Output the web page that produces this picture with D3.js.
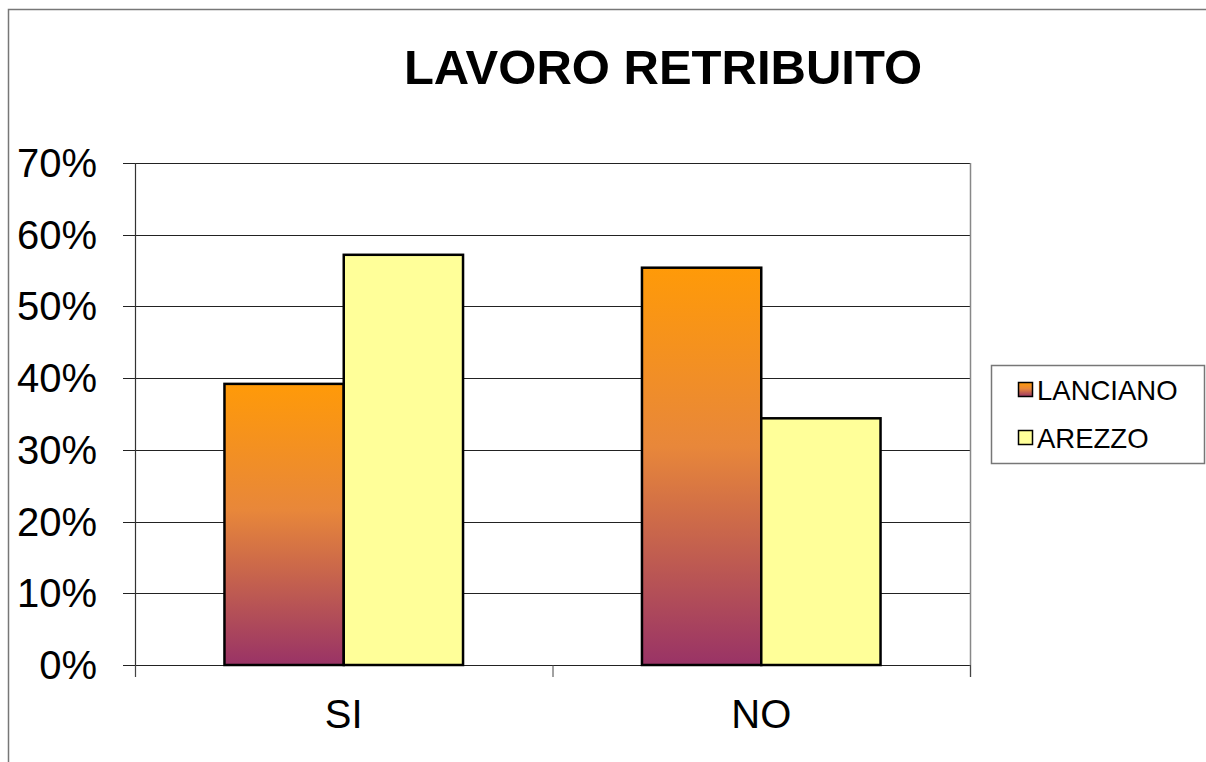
<!DOCTYPE html>
<html lang="it">
  <head>
    <meta charset="UTF-8" />
    <title>Lavoro retribuito</title>
    <script src="https://d3js.org/d3.v7.min.js"></script>
    <style>
      body { margin: 0; background: #fff; }
      text { font-family: "Liberation Sans", Arial, sans-serif; }
    </style>
  </head>
  <body>
    <svg width="1206" height="762"></svg>
    <script>
      // data
      const categories = ["SI", "NO"];
      const seriesNames = ["LANCIANO", "AREZZO"];
      const lanciano = [0.392, 0.554];
      const arezzo = [0.572, 0.344];
      const yTicks = [0, 0.1, 0.2, 0.3, 0.4, 0.5, 0.6, 0.7];

      const svg = d3.select("svg");

      // gradient for LANCIANO (per bar, orange top -> purple bottom)
      const defs = svg.append("defs");
      const grad = defs.append("linearGradient")
        .attr("id", "lancGrad")
        .attr("x1", 0).attr("y1", 0).attr("x2", 0).attr("y2", 1);
      grad.append("stop").attr("offset", "0%").attr("stop-color", "#ff9a08");
      grad.append("stop").attr("offset", "45%").attr("stop-color", "#e8873a");
      grad.append("stop").attr("offset", "100%").attr("stop-color", "#993366");

      const fills = ["url(#lancGrad)", "#ffff99"];

      // outer chart frame (left + top edges visible)
      svg.append("path")
        .attr("d", "M8.5,762 V9.5 H1206")
        .attr("fill", "none")
        .attr("stroke", "#777")
        .attr("stroke-width", 1.5);

      const pLeft = 135, pRight = 970, pTop = 163, pBottom = 665;

      const x = d3.scaleBand().domain(categories).range([pLeft, pRight]);
      const xs = d3.scaleBand().domain(seriesNames)
        .range([0, x.bandwidth()])
        .paddingInner(0)
        .paddingOuter(0.75);
      const y = d3.scaleLinear().domain([0, 0.7]).range([pBottom, pTop]);

      // gridlines
      svg.append("g")
        .selectAll("line")
        .data(yTicks)
        .join("line")
        .attr("x1", pLeft - 12).attr("x2", pRight)
        .attr("y1", d => Math.round(y(d)) + 0.5)
        .attr("y2", d => Math.round(y(d)) + 0.5)
        .attr("stroke", "#222")
        .attr("stroke-width", 1);

      // plot area right border
      svg.append("line")
        .attr("x1", pRight + 0.5).attr("x2", pRight + 0.5)
        .attr("y1", pTop).attr("y2", pBottom + 12)
        .attr("stroke", "#888").attr("stroke-width", 1.5);

      // y axis line
      svg.append("line")
        .attr("x1", pLeft + 0.5).attr("x2", pLeft + 0.5)
        .attr("y1", pTop).attr("y2", pBottom + 12)
        .attr("stroke", "#333").attr("stroke-width", 1.2);

      // x ticks at category boundaries
      svg.append("g")
        .selectAll("line")
        .data(categories.map(c => x(c)).concat([pRight]))
        .join("line")
        .attr("x1", d => d + 0.5).attr("x2", d => d + 0.5)
        .attr("y1", pBottom).attr("y2", pBottom + 12)
        .attr("stroke", "#444");

      // y tick labels
      svg.append("g")
        .selectAll("text")
        .data(yTicks)
        .join("text")
        .attr("x", 97)
        .attr("y", d => y(d) + 14)
        .attr("text-anchor", "end")
        .attr("font-size", 40)
        .text(d3.format(".0%"));

      // x labels
      svg.append("g")
        .selectAll("text")
        .data(categories)
        .join("text")
        .attr("x", d => x(d) + x.bandwidth() / 2)
        .attr("y", 728)
        .attr("text-anchor", "middle")
        .attr("font-size", 40)
        .text(d => d);

      // bars
      const series = [lanciano, arezzo];
      series.forEach((vals, si) => {
        svg.append("g")
          .selectAll("rect")
          .data(vals)
          .join("rect")
          .attr("x", (d, i) => x(categories[i]) + xs(seriesNames[si]))
          .attr("y", d => y(d))
          .attr("width", xs.bandwidth())
          .attr("height", d => pBottom - y(d))
          .attr("fill", fills[si])
          .attr("stroke", "#000")
          .attr("stroke-width", 2.5);
      });

      // title
      svg.append("text")
        .attr("x", 663)
        .attr("y", 84)
        .attr("text-anchor", "middle")
        .attr("font-size", 49)
        .attr("font-weight", "bold")
        .text("LAVORO RETRIBUITO");

      // legend
      const lg = svg.append("g");
      lg.append("rect")
        .attr("x", 991.5).attr("y", 365.5)
        .attr("width", 213).attr("height", 98)
        .attr("fill", "#fff")
        .attr("stroke", "#777").attr("stroke-width", 1.5);
      seriesNames.forEach((name, i) => {
        const yy = 382 + i * 48;
        lg.append("rect")
          .attr("x", 1018.5).attr("y", yy + 0.5)
          .attr("width", 14).attr("height", 14)
          .attr("fill", fills[i])
          .attr("stroke", "#000").attr("stroke-width", 1.5);
        lg.append("text")
          .attr("x", 1037)
          .attr("y", yy + 18)
          .attr("font-size", 27.5)
          .text(name);
      });
    </script>
  </body>
</html>
